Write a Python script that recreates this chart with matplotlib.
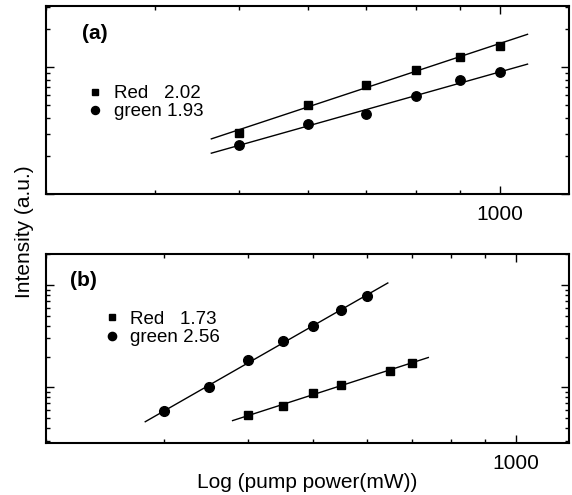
import numpy as np
import matplotlib
matplotlib.use("Agg")
import matplotlib.pyplot as plt
from matplotlib.ticker import LogLocator, NullFormatter, FixedFormatter, FixedLocator

plt.rcParams['font.family'] = ['Liberation Sans', 'DejaVu Sans']

# panel (a)
a_power = [500, 600, 700, 800, 900, 1000]
a_red = [3.01, 5.06, 7.27, 9.59, 12.0, 14.8]
a_green = [2.45, 3.56, 4.26, 5.91, 7.90, 9.20]
a_fit_range = [465, 1075]

# panel (b)
b_power_green = [300, 350, 400, 450, 500, 550, 600]
b_green = [0.583, 1.01, 1.84, 2.81, 3.98, 5.70, 7.74]
b_power_red = [400, 450, 500, 550, 650, 700]
b_red = [0.533, 0.658, 0.881, 1.06, 1.46, 1.73]
b_fit_green = [281, 645]
b_fit_red = [379, 741]

labels_a = ["Red   2.02", "green 1.93"]
labels_b = ["Red   1.73", "green 2.56"]


def fit_line(ax, x, y, rng):
    k, b = np.polyfit(np.log10(x), np.log10(y), 1)
    xs = np.array(rng, dtype=float)
    ax.plot(xs, 10 ** (k * np.log10(xs) + b), color='black', lw=1.0)


def style(ax, xlim, ylim):
    ax.set_xscale('log')
    ax.set_yscale('log')
    ax.set_xlim(*xlim)
    ax.set_ylim(*ylim)
    ax.xaxis.set_major_locator(FixedLocator([1000]))
    ax.xaxis.set_major_formatter(FixedFormatter(['1000']))
    ax.xaxis.set_minor_locator(LogLocator(base=10, subs=np.arange(2, 10)))
    ax.xaxis.set_minor_formatter(NullFormatter())
    ax.yaxis.set_major_locator(LogLocator(base=10))
    ax.yaxis.set_minor_locator(LogLocator(base=10, subs=np.arange(2, 10)))
    ax.yaxis.set_major_formatter(NullFormatter())
    ax.yaxis.set_minor_formatter(NullFormatter())
    ax.tick_params(which='both', direction='in', top=True, right=True, width=1.0)
    ax.tick_params(which='major', length=5.5, labelsize=15, pad=8)
    ax.tick_params(which='minor', length=3)
    for s in ax.spines.values():
        s.set_linewidth(1.5)


fig = plt.figure(figsize=(5.72, 4.95), dpi=100)
ax1 = fig.add_axes([0.0804, 0.608, 0.9144, 0.380])
ax2 = fig.add_axes([0.0804, 0.106, 0.9144, 0.381])

style(ax1, (300, 1200), (1, 30.5))
style(ax2, (200, 1200), (0.29, 20))

fit_line(ax1, a_power, a_red, a_fit_range)
fit_line(ax1, a_power, a_green, a_fit_range)
h1, = ax1.plot(a_power, a_red, 's', color='black', ms=5.8, label=labels_a[0])
h2, = ax1.plot(a_power, a_green, 'o', color='black', ms=6.8, label=labels_a[1])
ax1.legend(handles=[h1, h2], loc='upper left', bbox_to_anchor=(0.080, 0.58),
           frameon=False, fontsize=13.5, handlelength=0.8, handletextpad=0.6,
           labelspacing=0.05, borderpad=0, borderaxespad=0, markerscale=0.85)
ax1.text(0.069, 0.856, "(a)", transform=ax1.transAxes, fontsize=15,
         fontweight='bold', va='center', ha='left')

fit_line(ax2, b_power_green, b_green, b_fit_green)
fit_line(ax2, b_power_red, b_red, b_fit_red)
g1, = ax2.plot(b_power_red, b_red, 's', color='black', ms=5.8, label=labels_b[0])
g2, = ax2.plot(b_power_green, b_green, 'o', color='black', ms=7, label=labels_b[1])
ax2.legend(handles=[g1, g2], loc='upper left', bbox_to_anchor=(0.112, 0.698),
           frameon=False, fontsize=13.5, handlelength=0.8, handletextpad=0.55,
           labelspacing=0.05, borderpad=0, borderaxespad=0, markerscale=0.85)
ax2.text(0.045, 0.86, "(b)", transform=ax2.transAxes, fontsize=15,
         fontweight='bold', va='center', ha='left')

ax2.set_xlabel("Log (pump power(mW))", fontsize=15, labelpad=0)
fig.text(0.042, 0.531, "Intensity (a.u.)", rotation=90, fontsize=15,
         ha='center', va='center')

fig.savefig("out.png", dpi=100)
